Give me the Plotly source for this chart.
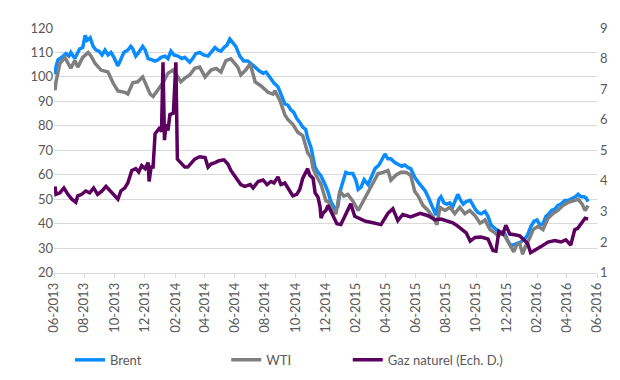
import plotly.graph_objects as go

# ---------------- data ----------------
brent_dates = [
    "2013-06-03", "2013-06-05", "2013-06-09", "2013-06-17", "2013-06-25", "2013-07-01", "2013-07-05",
    "2013-07-13", "2013-07-19", "2013-07-23", "2013-07-29", "2013-08-03", "2013-08-07", "2013-08-13",
    "2013-08-19", "2013-08-25", "2013-08-31", "2013-09-06", "2013-09-12", "2013-09-18", "2013-09-24",
    "2013-09-30", "2013-10-08", "2013-10-14", "2013-10-20", "2013-10-28", "2013-11-03", "2013-11-07",
    "2013-11-13", "2013-11-19", "2013-11-27", "2013-12-02", "2013-12-08", "2013-12-16", "2013-12-22",
    "2013-12-28", "2014-01-03", "2014-01-11", "2014-01-17", "2014-01-23", "2014-01-29", "2014-02-06",
    "2014-02-14", "2014-02-20", "2014-02-26", "2014-03-02", "2014-03-08", "2014-03-14", "2014-03-22",
    "2014-03-30", "2014-04-08", "2014-04-16", "2014-04-22", "2014-04-28", "2014-05-04", "2014-05-10",
    "2014-05-16", "2014-05-22", "2014-05-28", "2014-06-03", "2014-06-11", "2014-06-19", "2014-06-27",
    "2014-07-04", "2014-07-12", "2014-07-20", "2014-07-28", "2014-08-03", "2014-08-11", "2014-08-19",
    "2014-08-27", "2014-09-04", "2014-09-10", "2014-09-16", "2014-09-22", "2014-09-28", "2014-10-04",
    "2014-10-10", "2014-10-16", "2014-10-22", "2014-10-26", "2014-11-02", "2014-11-10", "2014-11-16",
    "2014-11-22", "2014-11-30", "2014-12-06", "2014-12-12", "2014-12-20", "2014-12-26", "2014-12-30",
    "2015-01-05", "2015-01-11", "2015-01-17", "2015-01-25", "2015-01-31", "2015-02-05", "2015-02-11",
    "2015-02-17", "2015-02-25", "2015-03-03", "2015-03-11", "2015-03-19", "2015-03-27", "2015-03-31",
    "2015-04-06", "2015-04-12", "2015-04-20", "2015-04-26", "2015-05-04", "2015-05-10", "2015-05-16",
    "2015-05-22", "2015-05-30", "2015-06-06", "2015-06-12", "2015-06-20", "2015-06-26", "2015-07-02",
    "2015-07-08", "2015-07-12", "2015-07-18", "2015-07-22", "2015-07-28", "2015-08-03", "2015-08-09",
    "2015-08-15", "2015-08-21", "2015-08-25", "2015-08-31", "2015-09-05", "2015-09-11", "2015-09-19",
    "2015-09-25", "2015-09-29", "2015-10-05", "2015-10-11", "2015-10-19", "2015-10-25", "2015-10-31",
    "2015-11-06", "2015-11-14", "2015-11-22", "2015-11-28", "2015-12-04", "2015-12-10", "2015-12-18",
    "2015-12-24", "2015-12-30", "2016-01-06", "2016-01-12", "2016-01-20", "2016-01-26", "2016-02-01",
    "2016-02-07", "2016-02-13", "2016-02-19", "2016-02-25", "2016-03-02", "2016-03-08", "2016-03-14",
    "2016-03-20", "2016-03-28", "2016-04-04", "2016-04-10", "2016-04-18", "2016-04-24", "2016-04-30",
    "2016-05-06", "2016-05-10", "2016-05-14",
]
brent_values = [
    101, 104, 107, 108, 109.5, 108.5, 110,
    107.5, 110, 111.5, 112, 117, 115, 116,
    112.5, 111, 110.5, 109, 111, 109, 110,
    108, 104.5, 107, 110, 111, 112.5, 111.5,
    108.5, 110, 112.5, 111, 107.5, 107, 106.5,
    107, 108, 108.5, 107.5, 110.5, 109, 108.5,
    107.5, 108, 107, 106, 107.5, 109.5, 110,
    109, 108.5, 110.5, 112, 111, 110.5, 112,
    113, 115.5, 114, 112.5, 108.5, 106.5, 106.5,
    105.5, 104, 102.5, 101.5, 102, 99.5, 97.5,
    96, 92, 89, 88.5, 86.5, 85.5, 83,
    81.5, 79.5, 78.5, 75, 71, 63, 61,
    59.5, 56, 53, 49, 46, 47, 53,
    57, 61, 60.5, 60.5, 58, 54, 55,
    58, 56, 58.5, 62.5, 64, 67.5, 68.5,
    66.5, 66.5, 65, 64.5, 63.5, 64, 63,
    62.5, 59, 57, 55.5, 53.5, 51, 48,
    45.5, 43.5, 50, 51, 48.5, 48, 48.5,
    47, 50, 52, 49.5, 48, 49, 49.5,
    47.5, 46, 44.5, 44, 45, 43, 39.5,
    38.5, 37, 36.5, 36, 33, 31, 31.5,
    32, 32.5, 33.5, 35, 39, 41, 41.5,
    39.5, 40, 43, 44, 45.5, 46, 47.5,
    48, 49.5, 49.5, 50, 51, 52, 51,
    51, 50.5, 49,
]

wti_dates = [
    "2013-06-03", "2013-06-05", "2013-06-13", "2013-06-23", "2013-06-29", "2013-07-05", "2013-07-13",
    "2013-07-19", "2013-07-29", "2013-08-09", "2013-08-15", "2013-08-23", "2013-09-04", "2013-09-18",
    "2013-09-28", "2013-10-08", "2013-10-22", "2013-10-28", "2013-11-07", "2013-11-17", "2013-11-27",
    "2013-12-04", "2013-12-12", "2013-12-18", "2013-12-28", "2014-01-07", "2014-01-17", "2014-01-27",
    "2014-02-06", "2014-02-12", "2014-02-20", "2014-03-02", "2014-03-12", "2014-03-22", "2014-04-02",
    "2014-04-14", "2014-04-24", "2014-05-04", "2014-05-14", "2014-05-24", "2014-06-07", "2014-06-13",
    "2014-06-23", "2014-07-02", "2014-07-12", "2014-07-24", "2014-08-07", "2014-08-17", "2014-08-21",
    "2014-08-31", "2014-09-10", "2014-09-16", "2014-09-26", "2014-10-06", "2014-10-16", "2014-10-26",
    "2014-11-02", "2014-11-06", "2014-11-12", "2014-11-22", "2014-12-02", "2014-12-06", "2014-12-16",
    "2014-12-22", "2014-12-30", "2015-01-07", "2015-01-15", "2015-01-25", "2015-02-05", "2015-02-15",
    "2015-02-25", "2015-03-07", "2015-03-17", "2015-03-27", "2015-04-06", "2015-04-12", "2015-04-22",
    "2015-05-02", "2015-05-12", "2015-05-22", "2015-05-30", "2015-06-06", "2015-06-16", "2015-06-26",
    "2015-07-06", "2015-07-14", "2015-07-20", "2015-07-30", "2015-08-09", "2015-08-19", "2015-08-29",
    "2015-09-08", "2015-09-18", "2015-09-28", "2015-10-09", "2015-10-19", "2015-10-29", "2015-11-08",
    "2015-11-14", "2015-11-24", "2015-12-04", "2015-12-10", "2015-12-16", "2015-12-22", "2015-12-28",
    "2016-01-03", "2016-01-09", "2016-01-17", "2016-01-24", "2016-02-03", "2016-02-13", "2016-02-23",
    "2016-03-04", "2016-03-14", "2016-03-24", "2016-04-04", "2016-04-14", "2016-04-24", "2016-05-02",
    "2016-05-08", "2016-05-14",
]
wti_values = [
    94.5, 98, 105.5, 108, 105.7, 103.6, 106.7,
    104, 108, 110, 108.5, 105.5, 102.8, 102,
    97.6, 94.3, 93.7, 93, 97.6, 98, 100,
    97, 93, 92, 95, 97.6, 101.5, 102.8,
    100, 98, 99.5, 100.8, 103.5, 104, 100,
    102.8, 103.5, 102, 106.7, 107.4, 104, 100.8,
    102.8, 105.4, 98, 96.3, 93.7, 93, 94.3,
    90.4, 84.5, 82.6, 80.6, 77.4, 76, 69,
    67, 62.5, 59.8, 56, 49.3, 49.3, 45.4,
    44, 53.3, 51.3, 52, 49.3, 45.4, 49.3,
    53.3, 56.6, 60.4, 61, 61.7, 57.8, 59.8,
    61, 61, 59.8, 53.3, 51.3, 47.4, 45.4,
    42.8, 39.6, 46.7, 45.4, 46.7, 44.1, 46.7,
    44.1, 45.4, 43.5, 40.2, 41.5, 37.6, 36.3,
    35, 36.3, 33, 31, 28.5, 31.5, 32,
    27.5, 31, 34, 37.6, 38.9, 37.6, 42.2,
    44.1, 45.4, 47.4, 48.7, 49.3, 50, 48,
    45.4, 47.4,
]

gas_dates = [
    "2013-06-03", "2013-06-05", "2013-06-13", "2013-06-21", "2013-06-29", "2013-07-07", "2013-07-15",
    "2013-07-19", "2013-07-27", "2013-08-04", "2013-08-12", "2013-08-20", "2013-08-28", "2013-09-06",
    "2013-09-14", "2013-09-22", "2013-09-30", "2013-10-08", "2013-10-14", "2013-10-22", "2013-10-28",
    "2013-11-05", "2013-11-13", "2013-11-19", "2013-11-25", "2013-12-02", "2013-12-08", "2013-12-10",
    "2013-12-14", "2013-12-18", "2013-12-22", "2013-12-28", "2014-01-01", "2014-01-04", "2014-01-07",
    "2014-01-10", "2014-01-13", "2014-01-17", "2014-01-21", "2014-01-28", "2014-02-02", "2014-02-05",
    "2014-02-12", "2014-02-20", "2014-02-26", "2014-03-04", "2014-03-12", "2014-03-22", "2014-04-02",
    "2014-04-08", "2014-04-14", "2014-04-22", "2014-04-30", "2014-05-10", "2014-05-18", "2014-05-24",
    "2014-06-03", "2014-06-13", "2014-06-21", "2014-07-02", "2014-07-08", "2014-07-18", "2014-07-28",
    "2014-08-05", "2014-08-13", "2014-08-19", "2014-08-27", "2014-09-02", "2014-09-10", "2014-09-18",
    "2014-09-26", "2014-10-04", "2014-10-10", "2014-10-16", "2014-10-22", "2014-10-26", "2014-10-30",
    "2014-11-06", "2014-11-10", "2014-11-16", "2014-11-20", "2014-11-22", "2014-11-26", "2014-12-02",
    "2014-12-06", "2014-12-16", "2014-12-24", "2015-01-01", "2015-01-11", "2015-01-21", "2015-01-29",
    "2015-02-08", "2015-02-20", "2015-03-07", "2015-03-23", "2015-04-06", "2015-04-16", "2015-04-26",
    "2015-05-06", "2015-05-22", "2015-06-10", "2015-06-26", "2015-07-10", "2015-07-22", "2015-08-05",
    "2015-08-15", "2015-08-25", "2015-09-05", "2015-09-11", "2015-09-19", "2015-09-29", "2015-10-11",
    "2015-10-25", "2015-11-04", "2015-11-10", "2015-11-16", "2015-11-24", "2015-11-30", "2015-12-08",
    "2015-12-18", "2015-12-28", "2016-01-07", "2016-01-13", "2016-01-19", "2016-01-27", "2016-02-09",
    "2016-02-23", "2016-03-08", "2016-03-20", "2016-03-30", "2016-04-09", "2016-04-17", "2016-04-23",
    "2016-04-29", "2016-05-08", "2016-05-14",
]
gas_values = [
    3.82, 3.56, 3.61, 3.77, 3.56, 3.4, 3.3,
    3.51, 3.56, 3.67, 3.61, 3.77, 3.56, 3.67,
    3.82, 3.67, 3.51, 3.4, 3.67, 3.77, 3.93,
    4.34, 4.4, 4.29, 4.5, 4.4, 4.6, 3.98,
    4.45, 4.45, 5.54, 5.65, 5.75, 5.6, 7.88,
    5.33, 5.85, 5.65, 6.17, 6.22, 7.88, 4.71,
    4.6, 4.45, 4.45, 4.55, 4.71, 4.79, 4.76,
    4.45, 4.55, 4.6, 4.66, 4.69, 4.55, 4.34,
    4.13, 3.88, 3.82, 3.88, 3.77, 3.98, 4.03,
    3.88, 3.98, 3.93, 4.13, 3.88, 3.93, 3.72,
    3.51, 3.56, 3.72, 4.08, 4.24, 4.4, 4.19,
    4.08, 3.61, 3.46, 3.15, 2.78, 2.94, 3.04,
    3.2, 2.88, 2.6, 2.57, 2.94, 3.25, 2.84,
    2.78, 2.68, 2.63, 2.57, 2.94, 3.09, 2.7,
    2.9, 2.82, 2.94, 2.86, 2.73, 2.75, 2.68,
    2.63, 2.52, 2.4, 2.3, 2.03, 2.15, 2.16,
    2.1, 1.72, 1.7, 2.35, 2.26, 2.55, 2.26,
    2.24, 2.2, 2.05, 1.95, 1.65, 1.72, 1.85,
    2.0, 2.05, 2.0, 2.07, 1.9, 2.4, 2.45,
    2.6, 2.78, 2.75,
]

series_names = ["Brent", "WTI", "Gaz naturel (Ech. D.)"]
series_colors = ["#0A8CFF", "#7F7F7F", "#5C0060"]

left_ticks = [20, 30, 40, 50, 60, 70, 80, 90, 100, 110, 120]
right_ticks = [1, 2, 3, 4, 5, 6, 7, 8, 9]
x_tick_dates = [
    "2013-06-01", "2013-08-01", "2013-10-01", "2013-12-01", "2014-02-01", "2014-04-01",
    "2014-06-01", "2014-08-01", "2014-10-01", "2014-12-01", "2015-02-01", "2015-04-01",
    "2015-06-01", "2015-08-01", "2015-10-01", "2015-12-01", "2016-02-01", "2016-04-01",
    "2016-06-01",
]
x_tick_labels = [
    "06-2013", "08-2013", "10-2013", "12-2013", "02-2014", "04-2014", "06-2014", "08-2014",
    "10-2014", "12-2014", "02-2015", "04-2015", "06-2015", "08-2015", "10-2015", "12-2015",
    "02-2016", "04-2016", "06-2016",
]

# ---------------- figure ----------------
FONT = "Lato, 'Open Sans', sans-serif"
TXT = "#595959"
GRID = "#D9D9D9"

fig = go.Figure()
fig.add_trace(go.Scatter(x=brent_dates, y=brent_values, name=series_names[0], mode="lines",
                         line=dict(color=series_colors[0], width=3.5), legend="legend"))
fig.add_trace(go.Scatter(x=wti_dates, y=wti_values, name=series_names[1], mode="lines",
                         line=dict(color=series_colors[1], width=3.5), legend="legend2"))
fig.add_trace(go.Scatter(x=gas_dates, y=gas_values, name=series_names[2], mode="lines",
                         line=dict(color=series_colors[2], width=3.5), yaxis="y2",
                         legend="legend3"))


def legend_box(xpos):
    return dict(orientation="h", xref="container", yref="container",
                x=xpos, y=0.074, xanchor="left", yanchor="middle",
                font=dict(family=FONT, size=13, color=TXT), bgcolor="rgba(0,0,0,0)",
                itemwidth=30)


fig.update_layout(
    width=620, height=380,
    margin=dict(l=46, r=31, t=16, b=108),
    paper_bgcolor="white", plot_bgcolor="white",
    font=dict(family=FONT, size=13, color=TXT),
    showlegend=True,
    legend=legend_box(0.1),
    legend2=legend_box(0.352),
    legend3=legend_box(0.548),
    xaxis=dict(type="date", range=["2013-06-01", "2016-06-01"],
               tickmode="array", tickvals=x_tick_dates, ticktext=x_tick_labels,
               tickangle=-90, showgrid=False, showline=True, linecolor=GRID, linewidth=1,
               ticks="outside", ticklen=4, tickcolor=GRID,
               tickfont=dict(family=FONT, size=13, color=TXT), zeroline=False),
    yaxis=dict(range=[20, 120], tickmode="array", tickvals=left_ticks,
               showgrid=True, gridcolor=GRID, gridwidth=1, zeroline=False,
               showline=False, ticks="", tickfont=dict(family=FONT, size=13, color=TXT)),
    yaxis2=dict(range=[1, 9], tickmode="array", tickvals=right_ticks, overlaying="y",
                side="right", showgrid=False, zeroline=False, showline=False, ticks="",
                ticklabelstandoff=2, tickfont=dict(family=FONT, size=13, color=TXT)),
)

fig.write_html("out.html")
